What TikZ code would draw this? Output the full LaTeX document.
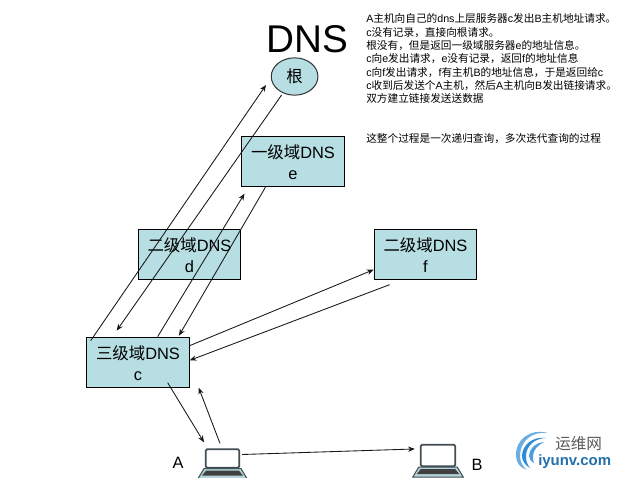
\documentclass[tikz,border=0pt]{standalone}
\usepackage{fontspec}
\setmainfont{Liberation Sans}
\newfontfamily\cjk{Noto Sans CJK SC}
\newcommand{\cj}[1]{{\cjk #1}}
\newcommand{\lowerstrut}{\rule{0pt}{11pt}}
\usetikzlibrary{arrows.meta,shapes.geometric}
\definecolor{boxfill}{RGB}{183,222,226}
\definecolor{logoblue}{RGB}{45,140,215}
\definecolor{logogray}{RGB}{90,90,90}
\definecolor{pcedge}{RGB}{65,78,84}
\definecolor{pcbody}{RGB}{178,212,218}
\tikzset{
  dnsbox/.style={draw=black,fill=boxfill,line width=0.75pt,minimum width=77pt,minimum height=38pt,inner sep=0pt,align=center,font=\fontsize{12.3}{15.7}\selectfont},
  rootnode/.style={draw=black!80,fill=boxfill,ellipse,line width=0.75pt,minimum width=35pt,minimum height=28pt,inner sep=0pt,font=\fontsize{12.3}{15}\selectfont},
  conn/.style={line width=0.65pt,black!90,-{Stealth[length=5pt,width=4pt]}},
  screen/.style={draw=pcedge,fill=white,line width=1.3pt,rounded corners=1pt,inner sep=0pt},
  lbl/.style={font=\fontsize{12.3}{15}\selectfont,inner sep=0pt},
  note/.style={anchor=north west,align=left,inner sep=0pt,font=\fontsize{8}{10}\selectfont},
}
\newcommand{\laptopbase}[1]{%
  \fill[pcbody,draw=pcedge,line width=0.8pt] ([shift={(-1,0)}]#1.south west) -- ([shift={(1,0)}]#1.south east) -- ([shift={(7,10)}]#1.south east) -- ([shift={(-7,10)}]#1.south west) -- cycle;
  \fill[black!75] ([shift={(1,2)}]#1.south west) -- ([shift={(-1,2)}]#1.south east) -- ([shift={(3,7)}]#1.south east) -- ([shift={(-3,7)}]#1.south west) -- cycle;
}
\begin{document}
\begin{tikzpicture}[x=0.75pt,y=-0.75pt]
\useasboundingbox[fill=white] (0,0) rectangle (618,478);
\node[inner sep=0pt,font=\fontsize{29}{30}\selectfont] (title) at (307.5,39.5) {DNS};
\node[rootnode] (root) at (294.6,76.5) {\cj{根}};
\node[dnsbox] (e) at (293,161.5) {\lowerstrut\cj{一级域}DNS\\e};
\node[dnsbox] (d) at (189.5,254.5) {\lowerstrut\cj{二级域}DNS\\d};
\node[dnsbox] (f) at (425.5,254.5) {\lowerstrut\cj{二级域}DNS\\f};
\node[dnsbox] (c) at (138,362.5) {\lowerstrut\cj{三级域}DNS\\c};
% laptops
\node[screen,minimum width=25pt,minimum height=14pt] (pcA) at (222.5,458.5) {};
\node[screen,minimum width=26pt,minimum height=16pt] (pcB) at (438,455.5) {};
\laptopbase{pcA}
\laptopbase{pcB}
\node[lbl] (labA) at (178,463) {A};
\node[lbl] (labB) at (477,465) {B};
% connectors
\draw[conn] ([shift={(4.5,4)}]c.north west) -- ([shift={(-28.6,8.5)}]root.center);
\draw[conn] ([shift={(-13,18.5)}]root.center) -- ([shift={(30.5,-6)}]c.north west);
\draw[conn] ([shift={(71.5,0)}]c.north west) -- ([shift={(3.3,58)}]e.north west);
\draw[conn] ([shift={(24.3,51.5)}]e.north west) -- ([shift={(92.8,-1)}]c.north west);
\draw[conn] ([shift={(103.5,9)}]c.north west) -- ([shift={(0,41)}]f.north west);
\draw[conn] ([shift={(16,56)}]f.north west) -- ([shift={(103.5,23.7)}]c.north west);
\draw[conn] ([shift={(81.5,46)}]c.north west) -- ([shift={(-1,-6)}]pcA.north west);
\draw[conn] ([shift={(15,-5)}]pcA.north west) -- ([shift={(112.5,51)}]c.north west);
\draw[conn] ([shift={(2,-4)}]pcA.east) -- ([shift={(-5,5)}]pcB.north west);
% note
\node[note] (notes) at (366,13.5) {%
A\cj{主机向自己的}dns\cj{上层服务器}c\cj{发出}B\cj{主机地址请求。}\\
c\cj{没有记录，直接向根请求。}\\
\cj{根没有，但是返回一级域服务器}e\cj{的地址信息。}\\
c\cj{向}e\cj{发出请求，}e\cj{没有记录，返回}f\cj{的地址信息}\\
c\cj{向}f\cj{发出请求，}f\cj{有主机}B\cj{的地址信息，于是返回给}c\\
c\cj{收到后发送个}A\cj{主机，然后}A\cj{主机向}B\cj{发出链接请求。}\\
\cj{双方建立链接发送送数据}\\[20pt]
\cj{这整个过程是一次递归查询，多次迭代查询的过程}};
% logo
\fill[logoblue!70] (516,456) .. controls (515,440) and (530,428) .. (548,433) .. controls (532,431) and (520,441) .. (520,456) .. controls (520,462) and (523,467) .. (527,470) .. controls (520,468) and (516,462) .. (516,456) -- cycle;
\fill[logoblue] (522,456) .. controls (522,445) and (533,436) .. (546,438) .. controls (535,438) and (526,446) .. (526,456) .. controls (526,461) and (527,464) .. (530,468) .. controls (525,465) and (522,461) .. (522,456) -- cycle;
\fill[logoblue!85] (529,456) .. controls (529,449) and (535,443) .. (544,442) .. controls (538,445) and (533,450) .. (533,456) .. controls (533,459) and (533,461) .. (534,463) .. controls (531,461) and (529,459) .. (529,456) -- cycle;
\node[inner sep=0pt,anchor=west,text=logogray,font=\fontsize{11.7}{12}\selectfont\cjk] (logocn) at (555,444) {运维网};
\node[inner sep=0pt,anchor=west,text=logoblue!80!black,font=\fontsize{11.2}{12}\selectfont\bfseries] (logoen) at (538,461.5) {iyunv.com};
\end{tikzpicture}
\end{document}
